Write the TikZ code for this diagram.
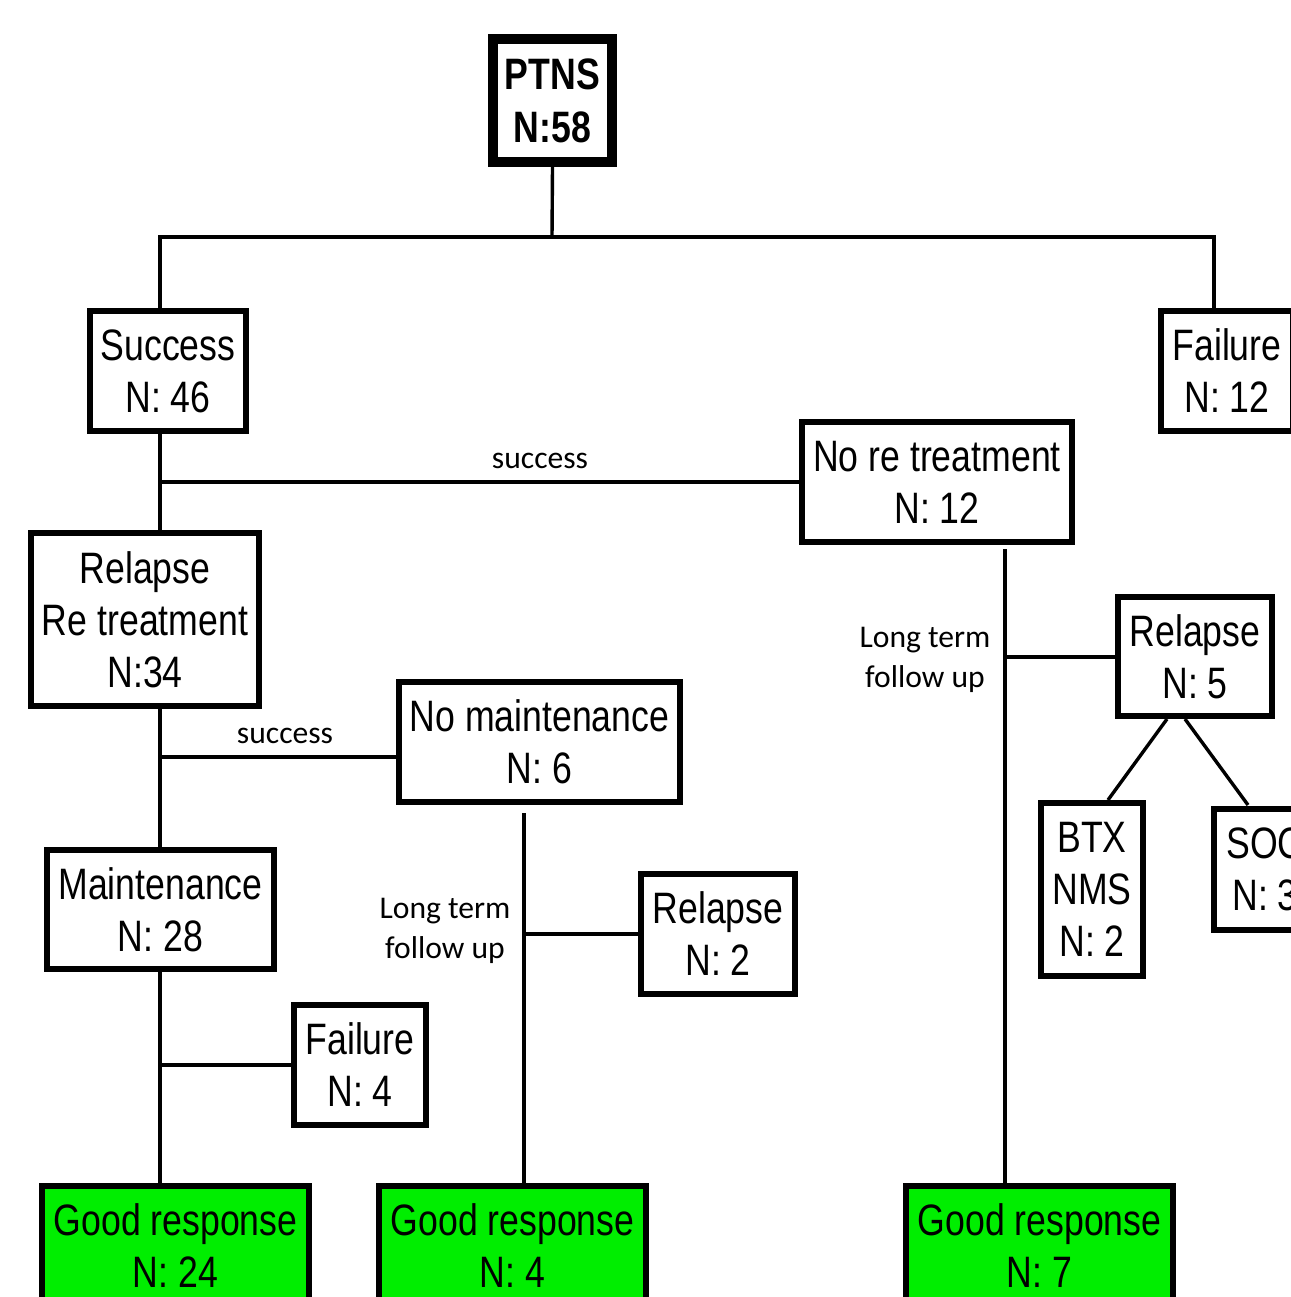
\documentclass[tikz,border=0pt]{standalone}
\usepackage{fontspec}
\newfontfamily\boxfont{Liberation Sans}[FakeStretch=0.81]
\newfontfamily\labfont{Carlito}
\definecolor{goodgreen}{RGB}{0,238,0}
\begin{document}
\begin{tikzpicture}[x=0.5pt,y=-0.5pt,
  box/.style={draw=black, line width=3pt, fill=white, align=center, inner sep=0pt,
    font=\boxfont\fontsize{22}{26}\selectfont},
  topbox/.style={box, line width=5pt, font=\boxfont\bfseries\fontsize{22}{26.5}\selectfont},
  goodbox/.style={box, fill=goodgreen},
  conn/.style={line width=1.7pt},
  lab/.style={font=\labfont\fontsize{15.8}{20}\selectfont, align=center, inner sep=0pt}]
\useasboundingbox (0,0) rectangle (1291,1297);
\clip (0,0) rectangle (1291,1297);
\fill[white] (0,0) rectangle (1291,1297);

% junction coordinates
\coordinate (jtop) at (552,237);
\coordinate (jl) at (160,237);
\coordinate (jr) at (1214,237);
\coordinate (j1) at (160,482);
\coordinate (j2) at (160,757);
\coordinate (j3) at (160,1065);
\coordinate (m0) at (524,813);
\coordinate (m1) at (524,934);
\coordinate (n0) at (1005,549);
\coordinate (n1) at (1005,657);
\coordinate (r5a) at (1167,719);
\coordinate (r5b) at (1185,719);
\coordinate (btxt) at (1108,800);
\coordinate (soct) at (1248,805);

% nodes
\node[topbox, minimum width=59.5pt, minimum height=61.5pt] (ptns) at (552.5,100.5) {PTNS\\N:58};
\node[box, minimum width=78pt, minimum height=60pt] (succ) at (168,371) {Success\\N: 46};
\node[box, minimum width=66pt, minimum height=60pt] (fail1) at (1227,371) {Failure\\N: 12};
\node[box, minimum width=135pt, minimum height=60pt] (noret) at (937,482) {No re treatment\\N: 12};
\node[box, minimum width=114pt, minimum height=86.5pt] (relre) at (145,619.5) {Relapse\\Re treatment\\N:34};
\node[box, minimum width=140.5pt, minimum height=60pt] (nomain) at (539.5,742) {No maintenance\\N: 6};
\node[box, minimum width=113.5pt, minimum height=59.5pt] (maint) at (160.5,909.5) {Maintenance\\N: 28};
\node[box, minimum width=66pt, minimum height=60pt] (fail4) at (360,1065) {Failure\\N: 4};
\node[box, minimum width=77pt, minimum height=60pt] (rel2) at (718,934) {Relapse\\N: 2};
\node[box, minimum width=77pt, minimum height=59.5pt] (rel5) at (1195,656.5) {Relapse\\N: 5};
\node[box, minimum width=51pt, minimum height=86.5pt] (btx) at (1092,889.5) {BTX\\NMS\\N: 2};
\node[box, minimum width=51pt, minimum height=60.5pt] (soc) at (1265,869.5) {SOC\\N: 3};
\node[goodbox, minimum width=133.5pt, minimum height=60pt] (good1) at (175.5,1246) {Good response\\N: 24};
\node[goodbox, minimum width=133.5pt, minimum height=60pt] (good2) at (512.5,1246) {Good response\\N: 4};
\node[goodbox, minimum width=133.5pt, minimum height=60pt] (good3) at (1039.5,1246) {Good response\\N: 7};

% connectors
\draw[conn] (ptns.south) -- (jtop);
\draw[conn] (succ.north -| jl) -- (jl) -- (jr) -- (fail1.north -| jr);
\draw[conn] (succ.south -| jl) -- (relre.north -| jl);
\draw[conn] (relre.south -| jl) -- (maint.north -| jl);
\draw[conn] (maint.south -| jl) -- (good1.north -| jl);
\draw[conn] (j1) -- (noret.west |- j1);
\draw[conn] (j2) -- (nomain.west |- j2);
\draw[conn] (j3) -- (fail4.west |- j3);
\draw[conn] (m0) -- (good2.north -| m0);
\draw[conn] (m1) -- (rel2.west |- m1);
\draw[conn] (n0) -- (good3.north -| n0);
\draw[conn] (n1) -- (rel5.west |- n1);
\draw[conn] (r5a) -- (btxt);
\draw[conn] (r5b) -- (soct);

% labels
\node[lab] (s1) at (540,461) {success};
\node[lab] (s2) at (285,736) {success};
\node[lab] (lt1) at (445,931) {Long term\\follow up};
\node[lab] (lt2) at (925,660) {Long term\\follow up};
\end{tikzpicture}
\end{document}
